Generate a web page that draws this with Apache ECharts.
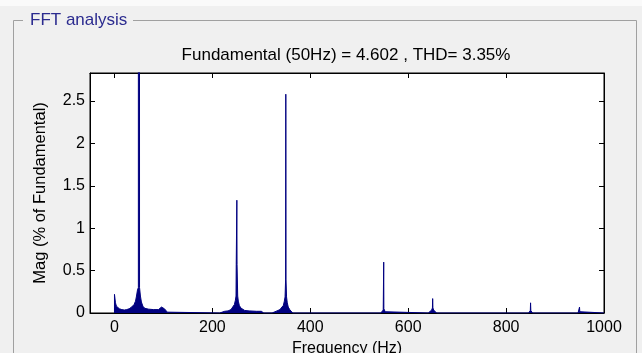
<!DOCTYPE html>
<html><head><meta charset="utf-8">
<script src="https://cdn.jsdelivr.net/npm/echarts@6/dist/echarts.min.js"></script>
<style>html,body{margin:0;padding:0;background:#f0f0f0}#c{width:642px;height:353px}</style>
</head><body><div id="c"></div>
<script>
// Spectrum (Hz, % of fundamental)
const freqHz = [0,0,1,2,4,7,10,15,20,25,30,35,40,43,45,47,48.5,48.8,49,51,51.2,51.8,53,55,58,62,70,80,90,94,96,98,100,102,105,108,110,
  215,218,225,232,238,242,245,247,248.3,248.7,249.6,250,250.4,251.3,251.7,253,255,258,262,266,275,290,300,303,305,
  322,326,332,338,342,345,347,348.5,349.6,350,350.4,351.5,353,355,358,361,364,
  544,547,549,549.7,550,550.3,551,553,556,
  641,645,648,649.5,650,650.5,652,655,658,
  846,848,849.5,850,850.5,852,854,
  947,949.5,950,950.5,953,1000];
const magPct = [0,0.22,0.2,0.12,0.08,0.06,0.05,0.04,0.035,0.04,0.05,0.07,0.1,0.14,0.2,0.27,0.28,0.3,100,100,0.3,0.28,0.2,0.13,0.08,0.055,0.045,0.04,0.04,0.05,0.07,0.09,0.08,0.05,0.03,0.01,0,
  0,0.015,0.02,0.025,0.04,0.06,0.1,0.15,0.2,0.57,0.57,1.33,0.57,0.57,0.2,0.14,0.09,0.06,0.04,0.03,0.025,0.02,0.02,0.01,0,
  0,0.015,0.025,0.04,0.06,0.09,0.14,0.19,0.4,2.58,0.4,0.19,0.12,0.07,0.04,0.02,0,
  0,0.015,0.035,0.05,0.6,0.05,0.035,0.015,0,
  0,0.015,0.035,0.06,0.17,0.06,0.035,0.015,0,
  0,0.015,0.03,0.12,0.03,0.015,0,
  0,0.015,0.07,0.015,0,0];
const xTicks = [0,200,400,600,800,1000];
const yTicks = [0,0.5,1,1.5,2,2.5];
const titleText = 'Fundamental (50Hz) = 4.602 , THD= 3.35%';
const panelTitle = 'FFT analysis';

const FONT = "'Liberation Sans', Arial, sans-serif";
const chart = echarts.init(document.getElementById('c'), null, {renderer:'canvas'});
const data = freqHz.map((f,i)=>[f, magPct[i]]);
const X_MIN = -50, X_MAX = 1000, Y_MIN = 0, Y_MAX = 2.83;
const lineBlack = {show:true, onZero:false, lineStyle:{color:'#000', width:1}};
const commonX = {type:'value', min:X_MIN, max:X_MAX, splitLine:{show:false}, axisLine:lineBlack};
const commonY = {type:'value', min:Y_MIN, max:Y_MAX, splitLine:{show:false}, axisLine:lineBlack};
chart.setOption({
  animation:false,
  backgroundColor:'#f0f0f0',
  grid:{left:90, top:73, right:38, bottom:40, containLabel:false, outerBoundsMode:'none',
        show:true, backgroundColor:'#fff', borderColor:'#000', borderWidth:1},
  xAxis:[
    Object.assign({}, commonX, {position:'bottom',
      name:'Frequency (Hz)', nameLocation:'middle', nameGap:26,
      nameTextStyle:{fontFamily:FONT, fontSize:16, color:'#000'},
      axisTick:{inside:true, length:5, customValues:xTicks, lineStyle:{color:'#000'}},
      axisLabel:{customValues:xTicks, formatter:v=>String(v), fontFamily:FONT, fontSize:16, color:'#000', margin:7}}),
    Object.assign({}, commonX, {position:'top',
      axisTick:{inside:true, length:5, customValues:xTicks, lineStyle:{color:'#000'}},
      axisLabel:{show:false, customValues:xTicks}})
  ],
  yAxis:[
    Object.assign({}, commonY, {position:'left',
      name:'Mag (% of Fundamental)', nameLocation:'middle', nameGap:41,
      nameTextStyle:{fontFamily:FONT, fontSize:16.5, color:'#000'},
      axisTick:{inside:true, length:5, customValues:yTicks, lineStyle:{color:'#000'}},
      axisLabel:{customValues:yTicks, fontFamily:FONT, fontSize:16, color:'#000', margin:5}}),
    Object.assign({}, commonY, {position:'right',
      axisTick:{inside:true, length:5, customValues:yTicks, lineStyle:{color:'#000'}},
      axisLabel:{show:false, customValues:yTicks}})
  ],
  series:[{
    type:'line', data:data, xAxisIndex:0, yAxisIndex:0,
    showSymbol:false, symbol:'none', clip:true,
    lineStyle:{color:'#000080', width:1},
    areaStyle:{color:'#000080', opacity:1, origin:'start'},
    z:1
  }],
  graphic:[
    {type:'rect', shape:{x:0,y:0,width:642,height:6}, style:{fill:'#fafafa'}, silent:true, z:-1},
    {type:'polyline', shape:{points:[[23,20.5],[13.5,20.5],[13.5,353]]}, style:{stroke:'#a0a0a0', lineWidth:1, fill:null}, silent:true},
    {type:'polyline', shape:{points:[[133,20.5],[636.5,20.5],[636.5,353]]}, style:{stroke:'#a0a0a0', lineWidth:1, fill:null}, silent:true},
    {type:'text', x:30, y:20, style:{text:panelTitle, font:"17px "+FONT, fill:'#2b2b8f', textVerticalAlign:'middle', textAlign:'left'}, silent:true},
    {type:'text', x:346, y:55, style:{text:titleText, font:"17px "+FONT, fill:'#000', textVerticalAlign:'middle', textAlign:'center'}, silent:true}
  ]
});
</script></body></html>
